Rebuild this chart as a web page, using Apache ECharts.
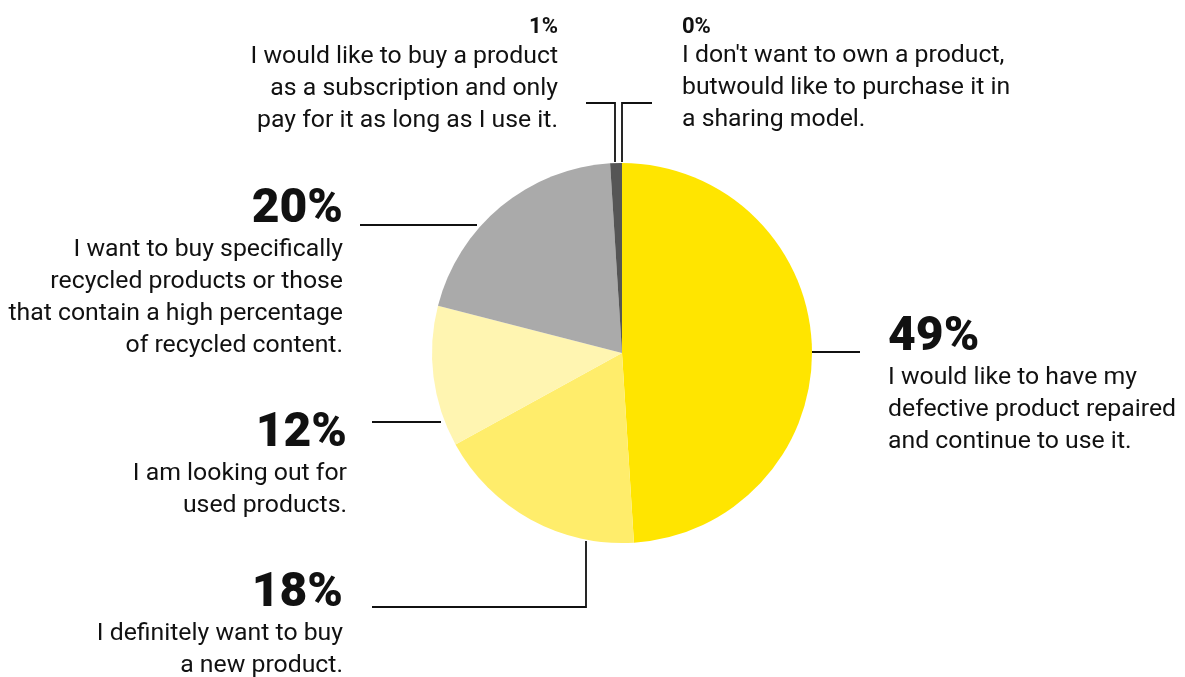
<!DOCTYPE html>
<html><head><meta charset="utf-8">
<script src="https://cdn.jsdelivr.net/npm/echarts@6/dist/echarts.min.js"></script>
<style>html,body{margin:0;padding:0;background:#fff}#c{width:1185px;height:677px}</style>
</head><body><div id="c"></div>
<script>
// ---- data ----
const categories = [
  ['I would like to have my', 'defective product repaired', 'and continue to use it.'],
  ['I definitely want to buy', 'a new product.'],
  ['I am looking out for', 'used products.'],
  ['I want to buy specifically', 'recycled products or those', 'that contain a high percentage', 'of recycled content.'],
  ['I would like to buy a product', 'as a subscription and only', 'pay for it as long as I use it.'],
  ["I don't want to own a product,", 'butwould like to purchase it in', 'a sharing model.']
];
const values = [49, 18, 12, 20, 1, 0];

// ---- styles / layout ----
const sliceColors = ['#FFE500', '#FFED6B', '#FFF5B1', '#AAAAAA', '#555555', '#333333'];
const labelPlacement = [
  {x: 888, y: 314, align: 'left', big: true, line: [[811, 352], [836, 352], [860, 352]]},
  {x: 343, y: 570, align: 'right', big: true, line: [[586, 541], [586, 607], [372, 607]]},
  {x: 347, y: 410, align: 'right', big: true, line: [[441, 422], [406, 422], [372, 422]]},
  {x: 343, y: 186, align: 'right', big: true, line: [[477, 225], [418, 225], [360, 225]]},
  {x: 558, y: 14.5, align: 'right', big: false, line: [[615, 162], [615, 103], [586, 103]]},
  {x: 682, y: 14, align: 'left', big: false, line: [[622, 162], [622, 103], [652, 103]]}
];

const chart = echarts.init(document.getElementById('c'), null, {renderer: 'canvas'});
const font = 'Roboto, "Noto Sans", sans-serif';
chart.setOption({
  animation: false,
  backgroundColor: '#ffffff',
  series: [{
    type: 'pie',
    center: [622, 353],
    radius: 190,
    startAngle: 90,
    clockwise: true,
    avoidLabelOverlap: false,
    emphasis: {disabled: true},
    itemStyle: {borderWidth: 0},
    data: values.map((v, i) => ({
      value: v,
      name: categories[i].join(' '),
      itemStyle: {color: sliceColors[i]}
    })),
    label: {
      show: true,
      position: 'outside',
      color: '#111',
      fontFamily: font,
      formatter: function (p) {
        const tag = labelPlacement[p.dataIndex].big ? 'p' : 's';
        return '{' + tag + '|' + p.value + '%}\n' +
          categories[p.dataIndex].map(l => '{b|' + l + '}').join('\n');
      },
      rich: {
        p: {fontSize: 48, fontWeight: 900, lineHeight: 48, color: '#111', fontFamily: font},
        s: {fontSize: 22, fontWeight: 'bold', lineHeight: 26, color: '#111', fontFamily: font},
        b: {fontSize: 24.8, lineHeight: 32, color: '#111', fontFamily: font}
      }
    },
    labelLine: {
      show: true,
      length: 20,
      length2: 20,
      lineStyle: {color: '#111', width: 1.8}
    },
    labelLayout: function (params) {
      const c = labelPlacement[params.dataIndex];
      return {
        x: c.x,
        y: c.y,
        align: c.align,
        verticalAlign: 'top',
        labelLinePoints: c.line
      };
    }
  }]
});
</script>
</body></html>
